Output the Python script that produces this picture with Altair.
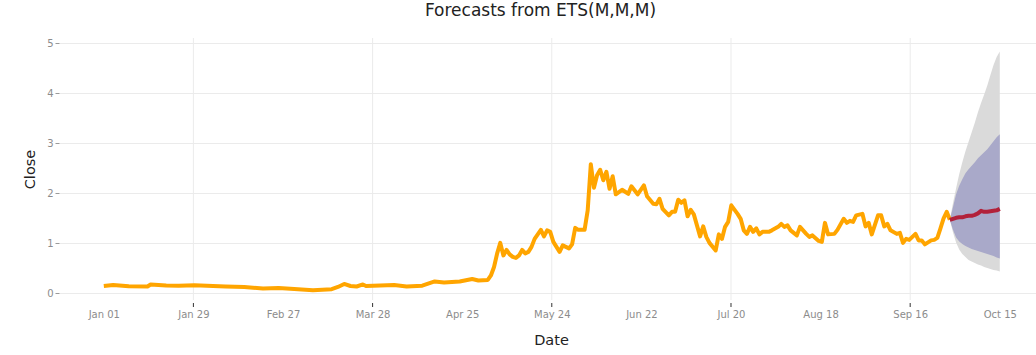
import altair as alt
import pandas as pd

BASE = pd.Timestamp("2021-01-01")

# ---- observed series (day offset from Jan 01, closing value) ----
hist_day = [0, 3, 8, 14, 15, 20, 24, 29, 39, 45, 51, 56, 61, 67, 73, 75, 77, 79, 81, 83, 84,
            93, 97, 102, 106, 109, 114, 118, 120, 123, 124, 125, 126, 127, 128, 129, 130, 131,
            132, 133, 134, 135, 136, 137, 138, 140, 141, 142, 143, 144, 146, 147, 149, 150, 151,
            152, 154, 155, 156, 157, 158, 159, 160, 161, 162, 163, 164, 166, 168, 169, 171, 173,
            174, 176, 177, 178, 179, 181, 182, 183, 184, 185, 186, 187, 188, 189, 190, 191, 192,
            193, 194, 196, 197, 198, 199, 200, 201, 203, 204, 205, 206, 207, 208, 209, 210, 211,
            213, 214, 216, 217, 218, 219, 220, 222, 223, 225, 226, 227, 229, 230, 231, 232, 234,
            235, 237, 238, 239, 240, 241, 243, 244, 245, 246, 248, 249, 250, 251, 252, 254, 255,
            256, 257, 258, 260, 261, 262, 263, 265, 266, 267, 268, 269, 270, 271]
hist_close = [0.15, 0.17, 0.145, 0.14, 0.18, 0.16, 0.155, 0.165, 0.14, 0.13, 0.10, 0.11, 0.09,
              0.066, 0.085, 0.13, 0.19, 0.15, 0.14, 0.18, 0.15,
              0.17, 0.14, 0.155, 0.24, 0.22, 0.24, 0.29, 0.26, 0.27, 0.36, 0.53, 0.80, 1.01,
              0.76, 0.87, 0.78, 0.73,
              0.71, 0.76, 0.87, 0.80, 0.83, 0.93, 1.09, 1.27, 1.14, 1.26, 1.23, 1.03, 0.83,
              0.96, 0.90, 0.98, 1.31,
              1.27, 1.27, 1.66, 2.58, 2.11, 2.36, 2.47, 2.26, 2.43, 2.09, 2.34, 1.98, 2.07,
              1.99, 2.14, 1.98, 2.16,
              1.94, 1.79, 1.78, 1.89, 1.69, 1.56, 1.63, 1.63, 1.87, 1.81, 1.86, 1.54, 1.67,
              1.58, 1.36, 1.14, 1.34,
              1.13, 1.01, 0.86, 1.18, 1.09, 1.33, 1.43, 1.76, 1.59, 1.49, 1.26, 1.19, 1.33,
              1.23, 1.30, 1.18, 1.23,
              1.23, 1.26, 1.33, 1.39, 1.33, 1.36, 1.26, 1.16, 1.33, 1.19, 1.13, 1.16, 1.05,
              1.03, 1.41, 1.18, 1.19,
              1.27, 1.49, 1.41, 1.45, 1.43, 1.56, 1.59, 1.34, 1.41, 1.18, 1.56, 1.56, 1.34,
              1.39, 1.26, 1.19, 1.21,
              1.01, 1.09, 1.07, 1.19, 1.06, 1.06, 0.98, 1.06, 1.07, 1.11, 1.30, 1.50, 1.63, 1.47]

# ---- forecast ----
fc_day = [271, 272, 273, 274, 275, 276, 277, 278, 279, 280, 281, 282, 283, 284, 285, 286, 287]
fc_mean = [1.47, 1.49, 1.51, 1.52, 1.52, 1.54, 1.55, 1.55, 1.57, 1.60, 1.65, 1.63, 1.63, 1.64,
           1.65, 1.66, 1.69]
lo80 = [1.47, 1.27, 1.12, 1.04, 0.99, 0.95, 0.92, 0.89, 0.87, 0.85, 0.83, 0.81, 0.79, 0.77,
        0.75, 0.72, 0.70]
hi80 = [1.47, 1.72, 1.98, 2.15, 2.28, 2.40, 2.48, 2.55, 2.62, 2.70, 2.76, 2.82, 2.88, 2.96,
        3.04, 3.12, 3.18]
lo95 = [1.47, 1.22, 1.02, 0.88, 0.79, 0.73, 0.67, 0.64, 0.61, 0.58, 0.56, 0.53, 0.51, 0.49,
        0.47, 0.46, 0.44]
hi95 = [1.47, 1.80, 2.10, 2.38, 2.62, 2.84, 3.03, 3.22, 3.41, 3.62, 3.80, 3.97, 4.15, 4.36,
        4.56, 4.72, 4.83]

# ---- axes ----
tick_labels = ["Jan 01", "Jan 29", "Feb 27", "Mar 28", "Apr 25", "May 24", "Jun 22",
               "Jul 20", "Aug 18", "Sep 16", "Oct 15"]
tick_step = 28.7          # days between labelled positions
grid_index = [1, 3, 5, 7, 9]
y_ticks = [0, 1, 2, 3, 4, 5]
x_range_days = [-14.35, 298.6]
y_range = [-0.13, 5.1]

FONT = "DejaVu Sans"
W, H = 977, 262


def to_ts(d):
    return BASE + pd.Timedelta(days=round(d, 3))


def to_dt(d):
    ts = to_ts(d)
    return alt.DateTime(year=ts.year, month=ts.month, date=ts.day,
                        hours=ts.hour, minutes=ts.minute, seconds=ts.second)


tick_vals = [to_dt(i * tick_step) for i in range(len(tick_labels))]

hist = pd.DataFrame({"Date": [to_ts(d) for d in hist_day], "Close": hist_close})
fc = pd.DataFrame({"Date": [to_ts(d) for d in fc_day], "mean": fc_mean,
                   "lo80": lo80, "hi80": hi80, "lo95": lo95, "hi95": hi95})
grid_df = pd.DataFrame({"Date": [to_ts(i * tick_step) for i in grid_index]})

x_scale = alt.Scale(domain=[to_dt(x_range_days[0]), to_dt(x_range_days[1])], nice=False)
y_scale = alt.Scale(domain=y_range, nice=False, zero=False)

x_axis = alt.Axis(values=tick_vals, format="%b %d", grid=False, ticks=False, tickSize=0,
                  domain=False, labelFont=FONT, labelFontSize=10, labelColor="#8c8c8c",
                  labelPadding=9, labelFlush=False, labelOverlap=False,
                  title="Date", titleFont=FONT, titleFontSize=14.5, titleFontWeight="normal",
                  titleColor="#222222", titleX=492, titleY=40, titleBaseline="middle",
                  titleAlign="center")
y_axis = alt.Axis(values=y_ticks, format="d", grid=True, gridColor="#ebebeb", domain=False,
                  ticks=True, tickSize=4, tickColor="#9a9a9a", labelFont=FONT,
                  labelFontSize=10, labelColor="#8c8c8c", labelPadding=2,
                  title="Close", titleFont=FONT, titleFontSize=14.5, titleFontWeight="normal",
                  titleColor="#222222", titleX=-29, titleY=131, titleAngle=270,
                  titleBaseline="middle", titleAlign="center")


def X():
    return alt.X("Date:T", scale=x_scale, axis=x_axis)


def Y(field):
    return alt.Y(f"{field}:Q", scale=y_scale, axis=y_axis)


grid = alt.Chart(grid_df).mark_rule(color="#ebebeb", strokeWidth=1).encode(x=X())
band95 = alt.Chart(fc).mark_area(color="#dadada", opacity=1).encode(
    x=X(), y=Y("lo95"), y2="hi95:Q")
band80 = alt.Chart(fc).mark_area(color="#a9a9c9", opacity=1).encode(
    x=X(), y=Y("lo80"), y2="hi80:Q")
obs = alt.Chart(hist).mark_line(color="#FFA500", strokeWidth=4, strokeJoin="round").encode(
    x=X(), y=Y("Close"))
fcl = alt.Chart(fc).mark_line(color="#B2213A", strokeWidth=4, strokeJoin="round").encode(
    x=X(), y=Y("mean"))
ticks = alt.Chart(grid_df).mark_rule(color="#333333", strokeWidth=1).encode(
    x=X(), y=alt.value(H + 3), y2=alt.value(H + 7))

chart = alt.layer(grid, band95, band80, obs, fcl, ticks).properties(
    width=W, height=H,
    autosize=alt.AutoSizeParams(type="none"),
    padding={"left": 59, "top": 38, "right": 0, "bottom": 55},
    title=alt.TitleParams("Forecasts from ETS(M,M,M)", font=FONT, fontSize=17,
                          fontWeight="normal", color="#222222", anchor="middle",
                          frame="group", dx=-7, offset=5, baseline="alphabetic"),
    background="white",
).configure_view(stroke=None)

chart.save("out.html", embed_options={"renderer": "svg", "actions": False})
